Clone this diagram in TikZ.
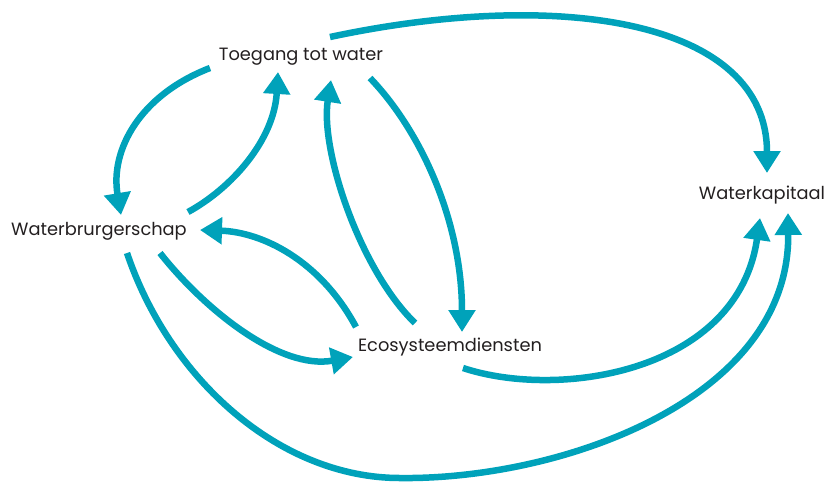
\documentclass[tikz,border=0pt]{standalone}
\usepackage{fontspec}
\setmainfont{Poppins}
\usepackage{tikz}
\usetikzlibrary{calc,arrows.meta}
\definecolor{flow}{RGB}{0,162,186}
\definecolor{ink}{RGB}{35,31,32}
\tikzset{
  >={Triangle[width=26pt,length=22pt]},
  label/.style={text=ink,font=\fontsize{17.8}{20}\selectfont,inner sep=0pt},
  link/.style={->,draw=flow,line width=6.5pt}
}

\begin{document}
\begin{tikzpicture}[x=1pt,y=-1pt]
\useasboundingbox (0,0) rectangle (826,483);
\node[label] (toegang)  at (301,57)  {Toegang tot water};
\node[label] (burger)   at (99,231)  {Waterbrurgerschap};
\node[label] (eco)      at (450,347) {Ecosysteemdiensten};
\node[label] (kapitaal) at (762,195) {Waterkapitaal};

% toegang -> kapitaal
\draw[link] ([shift={(29,-20)}]toegang.center) .. controls (560,-12) and (767,20) .. ([shift={(5,-22)}]kapitaal.center);
% toegang <-> burger
\draw[link] ([shift={(-91,11)}]toegang.center) .. controls (140,95) and (110,150) .. ([shift={(22,-16)}]burger.center);
\draw[link] ([shift={(89,-19)}]burger.center) .. controls (232,188) and (274,140) .. ([shift={(-23,15)}]toegang.center);
% toegang <-> eco
\draw[link] ([shift={(69,21)}]toegang.center) .. controls (420,130) and (462,220) .. ([shift={(12,-15)}]eco.center);
\draw[link] ([shift={(-35,-24)}]eco.center) .. controls (360,270) and (320,150) .. ([shift={(30,23)}]toegang.center);
% burger <-> eco
\draw[link] ([shift={(-94,-20)}]eco.center) .. controls (320,260) and (262,232) .. ([shift={(101,-1)}]burger.center);
\draw[link] ([shift={(61,22)}]burger.center) .. controls (205,310) and (280,370) .. ([shift={(-97,10)}]eco.center);
% eco -> kapitaal
\draw[link] ([shift={(13,21)}]eco.center) .. controls (560,400) and (738,372) .. ([shift={(-2,23)}]kapitaal.center);
% burger -> kapitaal
\draw[link] ([shift={(28,22)}]burger.center) .. controls (170,380) and (280,478) .. (400,478)
  .. controls (560,480) and (790,400) .. ([shift={(26,18)}]kapitaal.center);
\end{tikzpicture}
\end{document}
